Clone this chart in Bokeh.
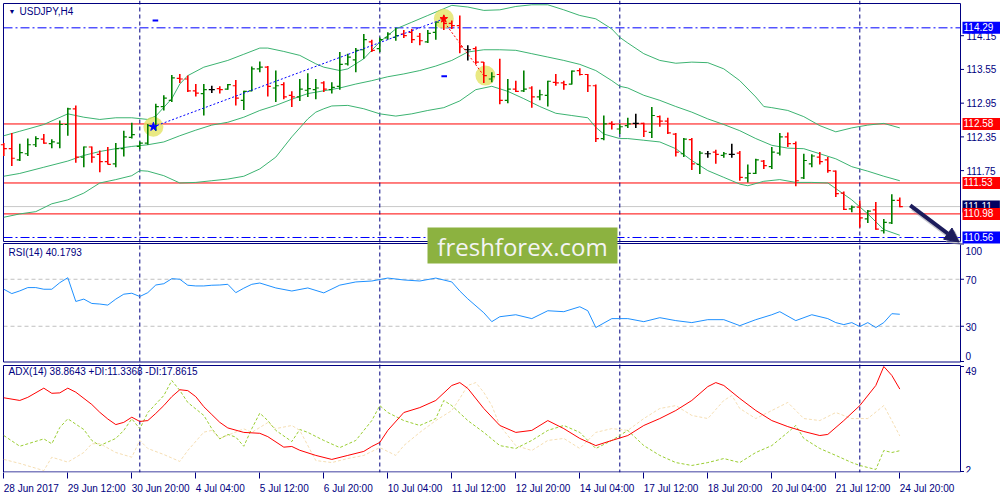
from bokeh.plotting import figure
from bokeh.models import Range1d, FixedTicker, Span, Label, Arrow, NormalHead, ColumnDataSource
from bokeh.embed import file_html
from bokeh.resources import INLINE

# ---------------- data ----------------
time_tick_bars = [0, 8, 16, 24, 32, 40, 48, 56, 64, 72, 80, 88, 96, 104, 112]
time_tick_labels = ["28 Jun 2017", "29 Jun 12:00", "30 Jun 20:00", "4 Jul 04:00", "5 Jul 12:00",
                    "6 Jul 20:00", "10 Jul 04:00", "11 Jul 12:00", "12 Jul 20:00", "14 Jul 04:00",
                    "17 Jul 12:00", "18 Jul 20:00", "20 Jul 04:00", "21 Jul 12:00", "24 Jul 20:00"]
week_start_bars = [17, 47, 77, 107]
price_ticks = [114.15, 113.55, 112.95, 112.35, 111.75]
price_tick_labels = ["114.15", "113.55", "112.95", "112.35", "111.75"]
rsi_ticks = [100, 70, 30, 0]
rsi_tick_labels = ["100", "70", "30", "0"]
adx_ticks = [49, 2]
adx_tick_labels = ["49", "2"]

opens = [112.21,112.14,111.94,112.05,112.21,112.31,112.23,112.24,112.57,112.85,
         111.99,112.17,112.04,111.91,111.87,112.14,112.34,112.18,112.24,112.53,
         112.89,113.00,113.39,113.38,113.17,113.12,113.19,113.21,113.20,113.26,
         113.00,113.17,113.56,113.59,113.22,113.28,113.09,113.06,113.18,113.19,
         113.31,113.19,113.25,113.65,113.72,113.90,114.04,113.92,114.11,114.12,
         114.18,114.21,114.14,114.04,114.21,114.45,114.37,114.33,113.90,113.92,
         113.68,113.38,113.46,113.00,113.20,113.17,113.22,113.06,113.09,113.32,
         113.31,113.29,113.53,113.46,113.26,112.32,112.59,112.49,112.55,112.59,
         112.59,112.43,112.71,112.63,112.40,112.05,112.30,111.86,112.05,112.08,
         112.02,112.04,112.06,111.62,111.70,111.92,111.82,112.06,112.35,112.23,
         111.62,111.87,111.99,111.94,111.74,111.35,111.07,111.10,110.89,111.05,
         110.68,110.82,111.22]
highs = [112.24,112.42,112.23,112.32,112.36,112.40,112.31,112.64,112.87,112.91,
         112.18,112.18,112.11,112.17,112.24,112.46,112.60,112.27,112.58,112.94,
         113.09,113.45,113.47,113.44,113.29,113.29,113.26,113.25,113.29,113.36,
         113.17,113.60,113.69,113.61,113.53,113.32,113.16,113.38,113.48,113.38,
         113.34,113.32,113.86,113.83,113.93,114.18,114.08,114.12,114.21,114.29,
         114.25,114.27,114.20,114.25,114.39,114.51,114.42,114.51,113.98,113.96,
         113.68,113.50,113.74,113.38,113.35,113.53,113.25,113.19,113.35,113.47,
         113.35,113.53,113.57,113.47,113.28,112.73,112.63,112.58,112.69,112.76,
         112.60,112.88,112.73,112.69,112.42,112.33,112.33,112.10,112.10,112.12,
         112.08,112.23,112.10,111.86,111.96,111.94,112.17,112.42,112.43,112.27,
         112.05,112.04,112.08,111.99,111.75,111.38,111.13,111.22,111.05,111.19,
         110.89,111.33,111.27]
lows = [112.01,111.83,111.92,112.01,112.17,112.23,112.15,112.15,112.37,111.89,
        111.81,111.89,111.72,111.86,111.81,112.00,112.32,112.13,112.21,112.46,
        112.82,112.97,113.31,113.15,113.07,112.73,113.13,113.12,113.19,112.91,
        112.83,113.16,113.50,113.07,112.97,113.02,112.88,112.99,113.06,113.02,
        113.15,113.12,113.19,113.62,113.50,113.74,113.86,113.86,114.08,114.06,
        114.11,114.02,113.98,114.02,114.08,114.25,114.27,113.84,113.71,113.64,
        113.31,113.32,112.93,112.95,113.15,113.15,112.87,113.00,112.89,113.26,
        113.19,113.28,113.44,113.15,112.26,112.29,112.48,112.40,112.51,112.51,
        112.35,112.33,112.53,112.40,112.00,111.99,111.76,111.69,111.98,111.87,
        111.98,111.98,111.57,111.54,111.69,111.78,111.78,112.02,112.17,111.47,
        111.60,111.81,111.86,111.71,111.28,111.05,111.01,110.74,110.82,110.70,
        110.63,110.80,111.10]
closes = [112.14,111.97,112.07,112.21,112.32,112.24,112.26,112.57,112.85,111.99,
          112.17,111.99,111.91,111.86,112.14,112.35,112.39,112.24,112.55,112.89,
          113.04,113.40,113.38,113.17,113.13,113.19,113.19,113.19,113.28,113.04,
          113.16,113.56,113.59,113.25,113.26,113.06,113.06,113.20,113.21,113.22,
          113.20,113.23,113.64,113.77,113.89,114.08,113.89,114.08,114.18,114.15,
          114.15,114.08,114.06,114.19,114.39,114.37,114.33,113.95,113.90,113.68,
          113.44,113.42,113.00,113.20,113.16,113.20,113.06,113.10,113.34,113.31,
          113.28,113.52,113.46,113.26,112.32,112.58,112.57,112.53,112.58,112.59,
          112.45,112.73,112.63,112.42,112.08,112.31,111.87,112.06,112.05,112.04,
          112.05,112.04,111.63,111.70,111.94,111.84,112.08,112.35,112.23,111.57,
          111.93,112.01,111.91,111.75,111.34,111.06,111.10,110.91,111.03,110.71,
          110.83,111.22,111.11]

bb_upper_idx = [0,2,5,8,10,12,14,16,18,19,21,22,23,25,28,30,32,33,35,37,39,40,42,43,45,47,49,51,53,55,56,
                58,60,62,64,66,68,70,72,74,76,77,78,80,82,84,86,88,90,92,94,95,96,98,100,102,104,106,108,110,112]
bb_upper = [112.37,112.45,112.57,112.76,112.70,112.66,112.69,112.69,112.66,112.72,113.03,113.29,113.44,113.59,
            113.71,113.82,113.93,113.93,113.87,113.80,113.65,113.59,113.53,113.56,113.74,114.04,114.27,114.39,
            114.51,114.63,114.69,114.66,114.60,114.61,114.67,114.70,114.70,114.61,114.51,114.45,114.27,114.12,
            114.02,113.83,113.71,113.66,113.68,113.67,113.56,113.35,113.06,112.89,112.87,112.82,112.71,112.55,
            112.44,112.51,112.56,112.59,112.51]
bb_mid_idx = [0,2,5,8,10,12,14,16,18,20,22,24,26,28,30,32,34,36,38,40,42,44,46,48,50,52,54,56,58,60,62,
              64,66,68,70,72,74,76,77,78,80,82,84,86,88,90,92,94,96,98,100,102,104,106,108,110,112]
bb_mid = [111.65,111.70,111.81,111.92,112.02,112.09,112.14,112.18,112.21,112.26,112.37,112.47,112.56,112.61,
          112.70,112.82,112.91,113.02,113.12,113.17,113.22,113.29,113.35,113.42,113.47,113.53,113.61,113.71,
          113.86,113.90,113.90,113.89,113.83,113.77,113.71,113.64,113.53,113.35,113.25,113.22,113.09,113.00,
          112.89,112.79,112.67,112.57,112.46,112.32,112.20,112.15,112.14,112.05,111.96,111.82,111.74,111.65,
          111.57]
bb_lower_idx = [0,2,4,6,8,10,12,14,16,17,18,20,22,24,26,28,30,32,34,36,38,39,40,41,43,45,47,49,51,53,55,
                57,59,61,63,65,67,69,71,73,74,75,77,78,80,82,84,86,88,90,92,93,95,97,99,101,103,104,106,108,110,112]
bb_lower = [110.92,110.98,111.02,111.16,111.23,111.35,111.53,111.59,111.66,111.75,111.74,111.66,111.53,111.54,
            111.57,111.60,111.65,111.78,111.99,112.35,112.67,112.79,112.85,112.90,112.91,112.85,112.76,112.72,
            112.76,112.82,112.87,112.99,113.19,113.25,113.16,113.03,112.89,112.77,112.73,112.69,112.52,112.40,
            112.32,112.32,112.29,112.26,112.14,111.93,111.75,111.63,111.51,111.48,111.56,111.59,111.54,111.54,
            111.53,111.43,111.23,110.98,110.70,110.60]

rsi_idx = list(range(0, 32)) + [32,34,36,38,40,42,44,46,48,50,52,54,56,57,58,60,61,62,64,66,68,70,72,73,74,
                                76,78,80,82,84,86,88,90,92,94,96,97,99,101,103,104,105,106,107,108,109,110,111,112]
rsi = [61.5,57.8,60.1,62.9,62.9,61.5,61.5,67.1,71.3,51.1,53.1,49.4,48.9,48.0,53.1,57.3,58.1,55.3,58.6,65.1,
       66.2,70.5,70.0,64.9,64.3,64.3,64.9,65.1,65.7,58.6,62.4,65.7,
       66.8,62.6,60.0,62.6,58.4,65.0,67.7,68.5,71.0,69.4,68.5,71.0,67.7,60.0,53.3,41.5,33.9,38.1,39.8,36.5,
       43.2,42.4,46.6,43.2,28.9,36.5,36.5,33.9,37.3,34.8,33.1,35.6,35.6,30.5,35.6,39.8,42.4,34.8,39.8,36.5,
       33.1,31.4,33.1,29.7,33.1,28.9,33.1,40.7,40.2]

adx_idx = [0,2,3,5,6,7,8,9,11,12,13,14,15,16,17,18,19,20,21,22,23,24,25,26,27,28,30,32,33,35,36,37,
           39,41,43,45,46,47,48,50,52,54,56,57,58,60,62,64,66,68,70,72,74,76,78,80,82,84,86,88,89,90,92,94,
           96,98,100,102,103,105,107,109,110,111,112]
adx = [35.0,33.8,35.2,39.3,37.0,37.2,39.3,37.5,32.0,28.5,25.5,23.0,24.0,26.3,24.4,24.8,28.0,31.5,35.5,38.6,
       38.2,35.5,31.0,27.5,24.0,21.5,19.5,19.1,17.6,12.9,13.2,11.5,
       9.2,7.4,9.2,11.0,13.2,15.0,20.4,28.4,30.6,33.8,40.5,41.8,39.2,30.2,22.6,19.5,20.4,24.8,21.2,16.8,13.6,
       15.9,18.1,22.6,25.7,29.3,33.8,40.0,41.8,40.5,34.7,29.3,24.8,22.1,19.9,18.1,18.6,24.8,31.5,40.5,49.0,
       45.0,38.9]
pdi_idx = [0,2,5,6,7,8,10,11,12,14,15,16,17,18,20,21,22,23,25,26,27,28,29,30,31,32,33,34,36,37,
           38,40,42,44,46,47,48,50,52,54,55,56,58,60,62,64,66,68,70,72,74,76,78,80,82,84,86,88,90,92,94,96,
           98,99,100,102,104,106,107,108,109,110,111,112]
pdi = [18.1,13.3,16.6,14.4,21.7,25.6,20.8,15.9,13.6,16.8,20.4,25.6,21.1,28.4,36.0,42.7,38.3,32.9,27.1,21.2,
       16.6,18.6,17.4,13.3,21.2,28.1,24.8,20.4,15.4,20.8,
       19.5,15.9,12.7,15.9,24.8,31.5,28.4,24.8,22.6,25.7,33.8,31.5,24.8,19.5,13.6,12.3,15.9,20.4,22.6,19.5,
       12.3,15.9,20.4,13.6,9.2,6.0,4.7,6.0,7.8,6.0,10.5,13.6,19.5,22.6,16.8,12.3,9.2,6.0,4.7,3.8,2.9,11.4,
       10.5,11.3]
mdi_idx = [0,2,5,6,8,10,11,12,14,16,17,18,20,22,23,25,26,27,30,31,33,34,36,37,
           39,41,43,45,47,49,50,52,54,56,57,58,59,60,61,62,64,66,68,70,72,74,76,78,80,82,84,86,88,90,91,92,
           94,96,98,100,102,104,106,108,110,111,112]
mdi = [7.4,5.6,2.4,8.4,6.2,10.5,14.4,14.5,10.5,8.4,15.9,12.3,9.6,6.5,11.4,19.6,20.4,16.8,21.1,19.5,23.9,21.2,
       22.6,20.4,
       6.9,6.0,7.8,9.2,12.7,9.2,13.6,19.5,24.8,29.3,34.7,40.5,41.8,37.4,31.5,22.6,13.6,11.4,15.9,16.8,12.3,
       19.5,21.2,20.4,25.7,30.2,31.5,27.1,25.7,33.8,36.0,30.2,25.7,29.3,32.9,25.7,24.8,28.4,25.7,25.7,31.5,
       24.8,17.9]

level_lines = [112.58, 111.53, 110.98]
dashdot_levels = [114.29, 110.56]
bid_price = 111.11
rsi_levels = [70, 30]
price_boxes = ["114.29", "112.58", "111.53", "111.11", "110.98", "110.56"]
price_box_values = [114.29, 112.58, 111.53, 111.11, 110.98, 110.56]

trend_up_x = [18.7, 54.8]
trend_up_y = [112.53, 114.44]
trend_dn_x = [54.8, 60.0]
trend_dn_y = [114.44, 113.44]
highlight_x = [18.7, 55.0, 60.2]
highlight_y = [112.53, 114.45, 113.44]
dash_marks_x0 = [18.6, 54.7]
dash_marks_x1 = [19.3, 55.4]
dash_marks_y = [114.42, 113.43]
arrow_x = [113.3, 119.4]
arrow_y = [111.13, 110.48]

# ---------------- geometry of the reference (pixel positions) ----------------
REF_LEFT, REF_RIGHT, REF_TOP, REF_BOTTOM = 0.0, 1000.0, 0.0, 472.0
CHART_L, CHART_R = 3.0, 960.0


def bar_at(xref):
    return (xref - 3.3) / 8.0


def band_range(v_top, y_top, v_bot, y_bot):
    per = (v_top - v_bot) / (y_bot - y_top)
    return Range1d(start=v_bot - (REF_BOTTOM - y_bot) * per, end=v_top + (y_top - REF_TOP) * per)


def band_value(rng, yref):
    return rng.end - (yref - REF_TOP) * (rng.end - rng.start) / (REF_BOTTOM - REF_TOP)


main_range = band_range(114.29, 27.33, 110.98, 213.4)
rsi_range = band_range(100, 243.5, 0, 361)
adx_range = band_range(49, 366, 2, 471)

NAVY = "#000080"
FONT = "Liberation Sans"

p = figure(frame_width=int(REF_RIGHT - REF_LEFT), frame_height=int(REF_BOTTOM - REF_TOP),
           x_range=Range1d(bar_at(REF_LEFT), bar_at(REF_RIGHT)), y_range=main_range,
           output_backend="svg", toolbar_location=None, y_axis_location=None,
           min_border_left=0, min_border_right=0, min_border_top=0, min_border_bottom=0)
p.extra_y_ranges = {"rsi": rsi_range, "adx": adx_range}
p.xgrid.visible = False
p.ygrid.visible = False
p.outline_line_color = None
p.background_fill_color = "white"
p.border_fill_color = "white"

xL, xR = bar_at(CHART_L), bar_at(CHART_R)

# time axis (left-aligned labels like the original)
xa = p.xaxis[0]
xa.ticker = FixedTicker(ticks=time_tick_bars)
xa.major_label_overrides = {b: t for b, t in zip(time_tick_bars, time_tick_labels)}
xa.axis_line_color = None
xa.major_tick_line_color = NAVY
xa.minor_tick_line_color = None
xa.major_tick_in = 0
xa.major_tick_out = 6
xa.major_label_standoff = 10
xa.major_label_orientation = -0.0001
xa.major_label_text_font = FONT
xa.major_label_text_font_size = "10px"
xa.major_label_text_color = NAVY

# week separators
for b in week_start_bars:
    p.add_layout(Span(location=b, dimension="height", line_color=NAVY, line_dash="4 3", line_width=1,
                      level="underlay"))

# horizontal objects (within the chart area only)
p.segment(x0=[xL] * 2, x1=[xR] * 2, y0=dashdot_levels, y1=dashdot_levels, line_color="#0000FF",
          line_dash="9 3 2 3", line_width=1, level="underlay")
p.segment(x0=[xL] * 3, x1=[xR] * 3, y0=level_lines, y1=level_lines, line_color="#FF0000", line_width=1,
          level="underlay")
p.segment(x0=[xL], x1=[xR], y0=[bid_price], y1=[bid_price], line_color="#C8C8C8", line_width=1,
          level="underlay")
p.segment(x0=[xL] * 2, x1=[xR] * 2, y0=rsi_levels, y1=rsi_levels, y_range_name="rsi", line_color="#C0C0C0",
          line_dash="4 3", line_width=1, level="underlay")

# panel borders
p.quad(left=[xL], right=[xR], top=[band_value(main_range, 3)], bottom=[band_value(main_range, 241)],
       fill_color=None, line_color=NAVY, line_width=1)
p.quad(left=[xL], right=[xR], top=[band_value(rsi_range, 243)], bottom=[band_value(rsi_range, 361.5)],
       y_range_name="rsi", fill_color=None, line_color=NAVY, line_width=1)
p.quad(left=[xL], right=[xR], top=[band_value(adx_range, 365)], bottom=[band_value(adx_range, 471.5)],
       y_range_name="adx", fill_color=None, line_color=NAVY, line_width=1)

# right scale ticks
p.segment(x0=[xR] * 5, x1=[bar_at(963.5)] * 5, y0=price_ticks, y1=price_ticks, line_color=NAVY)
p.segment(x0=[xR] * 4, x1=[bar_at(963.5)] * 4, y0=rsi_ticks, y1=rsi_ticks, y_range_name="rsi", line_color=NAVY)
p.segment(x0=[xR] * 2, x1=[bar_at(963.5)] * 2, y0=adx_ticks, y1=adx_ticks, y_range_name="adx", line_color=NAVY)

# bollinger bands
BB = "#3CB371"
p.line(bb_upper_idx, bb_upper, line_color=BB, line_width=1)
p.line(bb_mid_idx, bb_mid, line_color=BB, line_width=1)
p.line(bb_lower_idx, bb_lower, line_color=BB, line_width=1)

# highlights
p.scatter(highlight_x, highlight_y, size=20, marker="circle", fill_color="#E2E25A", fill_alpha=0.75,
          line_color=None)

# OHLC bars
idx = list(range(len(closes)))
colors = ["#008000" if c > o else ("#FF0000" if c < o else "#000000") for o, c in zip(opens, closes)]
src = ColumnDataSource(dict(x=idx, o=opens, h=highs, l=lows, c=closes, col=colors,
                            xl=[i - 0.38 for i in idx], xr=[i + 0.38 for i in idx]))
p.segment(x0="x", y0="l", x1="x", y1="h", source=src, line_color="col", line_width=1.6)
p.segment(x0="xl", y0="o", x1="x", y1="o", source=src, line_color="col", line_width=1.2)
p.segment(x0="x", y0="c", x1="xr", y1="c", source=src, line_color="col", line_width=1.2)

# trend lines and marks
p.line(trend_up_x, trend_up_y, line_color="#0000FF", line_dash="2 2", line_width=1)
p.line(trend_dn_x, trend_dn_y, line_color="#FF0000", line_dash="2 2", line_width=1)
p.scatter(highlight_x[:1], highlight_y[:1], marker="star", size=9, fill_color="#0000FF", line_color="#0000FF")
p.scatter(highlight_x[1:2], highlight_y[1:2], marker="star", size=8, fill_color="#FF0000", line_color="#FF0000")
p.segment(x0=dash_marks_x0, x1=dash_marks_x1, y0=dash_marks_y, y1=dash_marks_y, line_color="#0000FF",
          line_width=2)

# RSI
p.line(rsi_idx, rsi, y_range_name="rsi", line_color="#1E90FF", line_width=1)

# ADX
p.line(mdi_idx, mdi, y_range_name="adx", line_color="#F5DEB3", line_dash="3 2", line_width=1)
p.line(pdi_idx, pdi, y_range_name="adx", line_color="#9ACD32", line_dash="3 2", line_width=1)
p.line(adx_idx, adx, y_range_name="adx", line_color="#FF0000", line_width=1)

# arrow with shadow
p.add_layout(Arrow(end=NormalHead(size=14, fill_color="#9090A0", line_color="#9090A0", fill_alpha=0.5,
                                  line_alpha=0.5),
                   x_start=arrow_x[0] + 0.3, y_start=arrow_y[0] - 0.05, x_end=arrow_x[1] + 0.3,
                   y_end=arrow_y[1] - 0.05, line_color="#9090A0", line_alpha=0.5, line_width=5))
p.add_layout(Arrow(end=NormalHead(size=14, fill_color="#1C1C5C", line_color="#1C1C5C"),
                   x_start=arrow_x[0], y_start=arrow_y[0], x_end=arrow_x[1], y_end=arrow_y[1],
                   line_color="#1C1C5C", line_width=4))


# texts
def lab(x, y, text, rn="default", **kw):
    d = dict(text_font=FONT, text_font_size="10px", text_color=NAVY, text_baseline="middle")
    d.update(kw)
    p.add_layout(Label(x=x, y=y, text=text, y_range_name=rn, **d))


lab(bar_at(8), band_value(main_range, 11), "\u25BC", text_font_size="7px")
lab(bar_at(19), band_value(main_range, 11), "USDJPY,H4")
lab(bar_at(8), band_value(rsi_range, 252), "RSI(14) 40.1793", rn="rsi")
lab(bar_at(8), band_value(adx_range, 371), "ADX(14) 38.8643 +DI:11.3368 -DI:17.8615", rn="adx")

XT = bar_at(966)
for t, v in zip(price_tick_labels, price_ticks):
    lab(XT, v, t)
rsi_label_y = [250, 279, 326, 355]
for t, yy in zip(rsi_tick_labels, rsi_label_y):
    lab(bar_at(965), band_value(rsi_range, yy), t, rn="rsi")
adx_label_y = [370, 469]
for t, yy in zip(adx_tick_labels, adx_label_y):
    lab(bar_at(965), band_value(adx_range, yy), t, rn="adx")

box_colors = ["#0000FF", "#FF0000", "#FF0000", "#000060", "#FF0000", "#0000FF"]
for t, v, bg in zip(price_boxes, price_box_values, box_colors):
    p.add_layout(Label(x=bar_at(962), y=v, text=t, text_font=FONT, text_font_size="10px",
                       text_color="white", text_baseline="middle", background_fill_color=bg,
                       padding=(1, 8, 1, 3)))

# watermark box and text
p.quad(left=[bar_at(427)], right=[bar_at(617)], top=[band_value(main_range, 227)],
       bottom=[band_value(main_range, 263)], fill_color="#8CB240", line_color=None, level="overlay")
p.add_layout(Label(x=bar_at(522), y=band_value(main_range, 245.5), text="freshforex.com", text_font="Open Sans",
                   text_font_size="24px", text_color="#F4F4F4", text_align="center", text_baseline="middle",
                   level="overlay"))

open("out.html", "w").write(file_html(p, INLINE))
